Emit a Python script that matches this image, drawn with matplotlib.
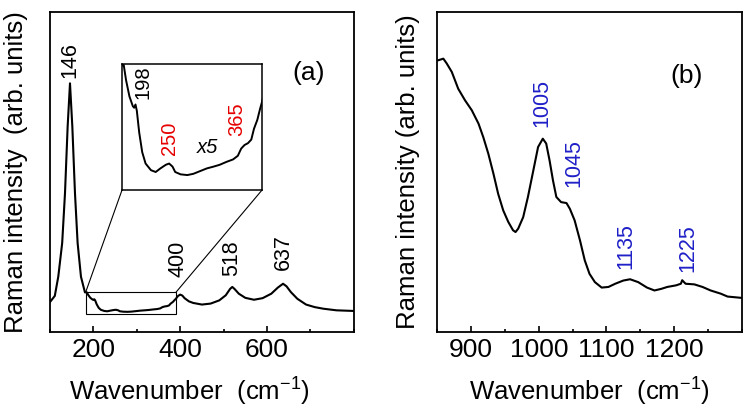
import matplotlib
matplotlib.use('Agg')
import matplotlib.pyplot as plt
from matplotlib.patches import Rectangle, ConnectionPatch
from matplotlib.ticker import MultipleLocator, NullLocator

plt.rcParams['font.family'] = ['Liberation Sans', 'DejaVu Sans']
plt.rcParams['mathtext.default'] = 'regular'

# Spectrum (a): wavenumber and intensity
wn_a = [100, 111, 119, 128, 134.5, 140.6, 146, 151.4, 157.5, 163.6, 171.3, 180.5,
        184.5, 188, 193, 198, 200, 202, 204, 207.5, 212, 217, 225, 232, 239, 247,
        252, 257, 261, 269, 279, 288, 298, 308, 318, 327, 337, 347, 354, 359, 364,
        369, 374, 378, 383, 387, 390, 395, 400, 405, 410, 420, 430, 450, 470, 490,
        505, 515, 520, 525, 535, 550, 570, 590, 610, 625, 637, 645, 655, 670, 690,
        710, 730, 760, 800]
int_a = [0.094, 0.113, 0.173, 0.278, 0.434, 0.642, 0.777, 0.642, 0.434, 0.278, 0.173, 0.124,
         0.1245, 0.116, 0.107, 0.1016, 0.1007, 0.1025, 0.099, 0.087, 0.076, 0.0697, 0.066, 0.065, 0.067, 0.069,
         0.0697, 0.068, 0.065, 0.0637, 0.0633, 0.064, 0.0655, 0.067, 0.068, 0.069, 0.0706, 0.072, 0.074, 0.078, 0.080,
         0.081, 0.083, 0.089, 0.094, 0.100, 0.104, 0.113, 0.117, 0.114, 0.106, 0.096, 0.091, 0.086, 0.089, 0.099,
         0.115, 0.135, 0.141, 0.135, 0.120, 0.107, 0.101, 0.106, 0.120, 0.139, 0.151, 0.143, 0.125, 0.104, 0.086,
         0.078, 0.073, 0.068, 0.066]

# Spectrum (b)
wn_b = [851.5, 859, 864, 871.5, 881, 891, 901, 911, 918, 925.5, 933, 940, 947.5, 955,
        962, 965.7, 969.6, 977, 984, 992, 999, 1006, 1011, 1016, 1021, 1026, 1033,
        1041, 1046, 1053, 1061, 1068, 1075, 1083, 1093, 1103, 1113, 1125, 1135, 1147,
        1160, 1171, 1181, 1190, 1203, 1210, 1212, 1217, 1230, 1242, 1254, 1269, 1279,
        1289, 1299]
int_b = [0.849, 0.854, 0.839, 0.8125, 0.76, 0.724, 0.693, 0.651, 0.609, 0.557, 0.495, 0.432, 0.38, 0.344,
         0.318, 0.3125, 0.323, 0.359, 0.422, 0.505, 0.578, 0.604, 0.589, 0.536, 0.474, 0.422, 0.406,
         0.403, 0.385, 0.349, 0.286, 0.224, 0.182, 0.156, 0.139, 0.141, 0.151, 0.161, 0.165, 0.156,
         0.139, 0.130, 0.135, 0.141, 0.146, 0.151, 0.162, 0.151, 0.149, 0.141, 0.130, 0.120, 0.111,
         0.109, 0.107]

labels_a = ['146', '400', '518', '637']
labels_inset = ['198', '250', '365']
labels_b = ['1005', '1045', '1135', '1225']

blue = '#1f1fc8'
red = '#e60000'
fs_tick = 19
fs_lab = 18.5
fs_peak = 15.5

fig = plt.figure(figsize=(7.5, 4.11), dpi=100)
ax1 = fig.add_axes([0.0667, 0.192, 0.405, 0.779])
ax2 = fig.add_axes([0.583, 0.192, 0.406, 0.779])

for ax in (ax1, ax2):
    for s in ax.spines.values():
        s.set_linewidth(1.3)
    ax.yaxis.set_major_locator(NullLocator())
    ax.tick_params(axis='x', direction='in', labelsize=fs_tick, width=1.2, length=4, pad=4)
    ax.tick_params(axis='x', which='minor', direction='in', width=1.2, length=2.5)
    ax.set_ylim(0, 1)

# (a)
ax1.plot(wn_a, int_a, color='black', lw=1.5)
ax1.set_xlim(100, 800)
ax1.set_xticks([200, 400, 600])
ax1.xaxis.set_minor_locator(MultipleLocator(100))
ax1.set_xlabel('Wavenumber  (cm$^{-1}$)', fontsize=fs_lab)
ax1.xaxis.set_label_coords(0.46, -0.135)
ax1.set_ylabel('Raman intensity  (arb. units)', fontsize=fs_lab)
ax1.yaxis.set_label_coords(-0.072, 0.5)
ax1.text(0.85, 0.81, '(a)', transform=ax1.transAxes, fontsize=19, ha='center', va='center')

pos_a = [(144.6, 0.794), (396, 0.172), (519, 0.174), (638, 0.193)]
for t, (x, y) in zip(labels_a, pos_a):
    ax1.text(x, y, t, rotation=90, ha='center', va='bottom', fontsize=fs_peak)

rx0, rx1, ry0, ry1 = 182, 390, 0.055, 0.124
ax1.add_patch(Rectangle((rx0, ry0), rx1 - rx0, ry1 - ry0, fill=False, lw=0.8, ec='black'))

axin = fig.add_axes([0.1627, 0.5377, 0.1867, 0.3066])
axin.plot(wn_a, int_a, color='black', lw=1.4)
axin.set_xlim(rx0, rx1)
axin.set_ylim(ry0, ry1 + 0.001)
axin.set_xticks([])
axin.set_yticks([])
for s in axin.spines.values():
    s.set_linewidth(1.1)

pos_in = [(213.6, 0.1053), (252.5, 0.0742), (352.6, 0.0852)]
cols_in = ['black', red, red]
for t, (x, y), c in zip(labels_inset, pos_in, cols_in):
    axin.text(x, y, t, rotation=90, ha='center', va='bottom', fontsize=14.5, color=c)
axin.text(309, 0.0788, 'x5', style='italic', ha='center', va='center', fontsize=14.5)

for xa, xb in ((rx0, 0), (rx1, 1)):
    con = ConnectionPatch(xyA=(xa, ry1), coordsA=ax1.transData,
                          xyB=(xb, 0), coordsB=axin.transAxes,
                          color='black', lw=0.8)
    fig.add_artist(con)

# (b)
ax2.plot(wn_b, int_b, color='black', lw=1.5)
ax2.set_xlim(850, 1300)
ax2.set_xticks([900, 1000, 1100, 1200])
ax2.xaxis.set_minor_locator(MultipleLocator(50))
ax2.set_xlabel('Wavenumber  (cm$^{-1}$)', fontsize=fs_lab)
ax2.xaxis.set_label_coords(0.50, -0.135)
ax2.set_ylabel('Raman intensity (arb. units)', fontsize=fs_lab)
ax2.yaxis.set_label_coords(-0.056, 0.5)
ax2.text(0.82, 0.80, '(b)', transform=ax2.transAxes, fontsize=19, ha='center', va='center')

pos_b = [(1004, 0.64), (1052, 0.453), (1129, 0.198), (1220, 0.1875)]
for t, (x, y) in zip(labels_b, pos_b):
    ax2.text(x, y, t, rotation=90, ha='center', va='bottom', fontsize=fs_peak, color=blue)

fig.savefig('out.png', dpi=100)
